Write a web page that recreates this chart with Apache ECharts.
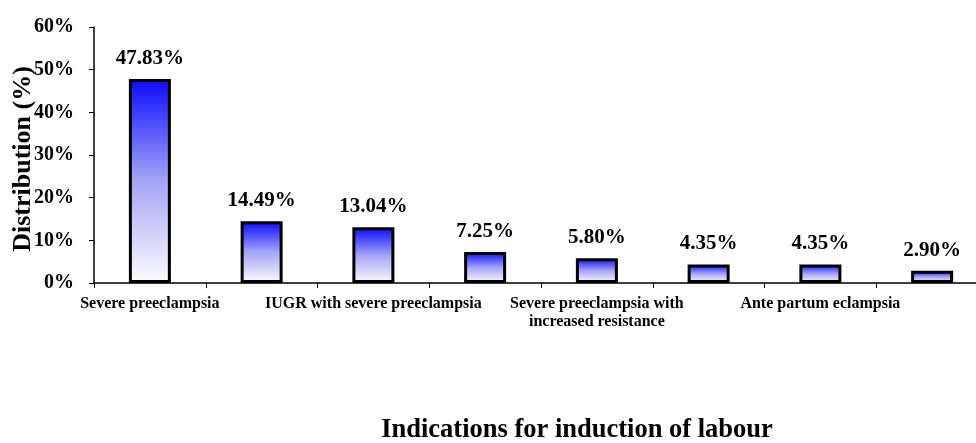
<!DOCTYPE html>
<html>
<head>
<meta charset="utf-8">
<script src="https://cdn.jsdelivr.net/npm/echarts@6/dist/echarts.min.js"></script>
<style>
  html, body { margin: 0; padding: 0; background: #fff; }
  #chart { width: 976px; height: 443px; }
</style>
</head>
<body>
<div id="chart"></div>
<script>
// Indications for induction of labour, share of cases (%)
const categories = [
  'Severe preeclampsia', '',
  'IUGR with severe preeclampsia', '',
  'Severe preeclampsia with\nincreased resistance', '',
  'Ante partum eclampsia', ''
];
const shares = [47.83, 14.49, 13.04, 7.25, 5.80, 4.35, 4.35, 2.90];
const yTicks = [0, 10, 20, 30, 40, 50, 60];
const yTitle = 'Distribution (%)';
const xTitle = 'Indications for induction of labour';

const serif = "'Liberation Serif', 'Times New Roman', serif";

const chart = echarts.init(document.getElementById('chart'), null, { renderer: 'canvas' });

chart.setOption({
  backgroundColor: '#ffffff',
  animation: false,
  title: {
    text: xTitle,
    left: 572,
    textAlign: 'center',
    top: 412,
    textStyle: { fontFamily: serif, fontWeight: 'bold', fontSize: 26.5, color: '#000' }
  },
  // vertical axis title, rotated to read bottom-to-top
  graphic: [{
    type: 'text',
    x: 23,
    y: 159,
    rotation: Math.PI / 2,
    style: {
      text: yTitle,
      fontFamily: serif,
      fontWeight: 'bold',
      fontSize: 26,
      fill: '#000',
      align: 'center',
      verticalAlign: 'middle'
    }
  }],
  grid: {
    left: 94, top: 27, width: 894, height: 256,
    containLabel: false,
    outerBoundsMode: 'none'
  },
  xAxis: {
    type: 'category',
    data: categories,
    axisLine: { lineStyle: { color: '#000', width: 1.5 } },
    axisTick: { show: true, interval: 0, length: 5, lineStyle: { color: '#000' } },
    axisLabel: {
      interval: 1,
      margin: 12,
      fontFamily: serif,
      fontWeight: 'bold',
      fontSize: 16,
      lineHeight: 18,
      color: '#000'
    }
  },
  yAxis: {
    type: 'value',
    min: yTicks[0],
    max: yTicks[yTicks.length - 1],
    interval: 10,
    axisLine: { show: true, lineStyle: { color: '#000', width: 1.5 } },
    axisTick: { show: true, length: 5, lineStyle: { color: '#000' } },
    splitLine: { show: false },
    axisLabel: {
      margin: 20,
      formatter: '{value}%',
      fontFamily: serif,
      fontWeight: 'bold',
      fontSize: 20,
      color: '#000'
    }
  },
  series: [{
    type: 'bar',
    data: shares,
    barWidth: 42,
    itemStyle: {
      borderColor: '#000',
      borderWidth: 3,
      color: new echarts.graphic.LinearGradient(0, 0, 0, 1, [
        { offset: 0, color: '#0a0aff' },
        { offset: 0.5, color: '#a4a4f6' },
        { offset: 1, color: '#fcfcff' }
      ])
    },
    label: {
      show: true,
      position: 'top',
      distance: 10,
      formatter: p => p.value.toFixed(2) + '%',
      fontFamily: serif,
      fontWeight: 'bold',
      fontSize: 21,
      color: '#000'
    }
  }]
});
</script>
</body>
</html>
